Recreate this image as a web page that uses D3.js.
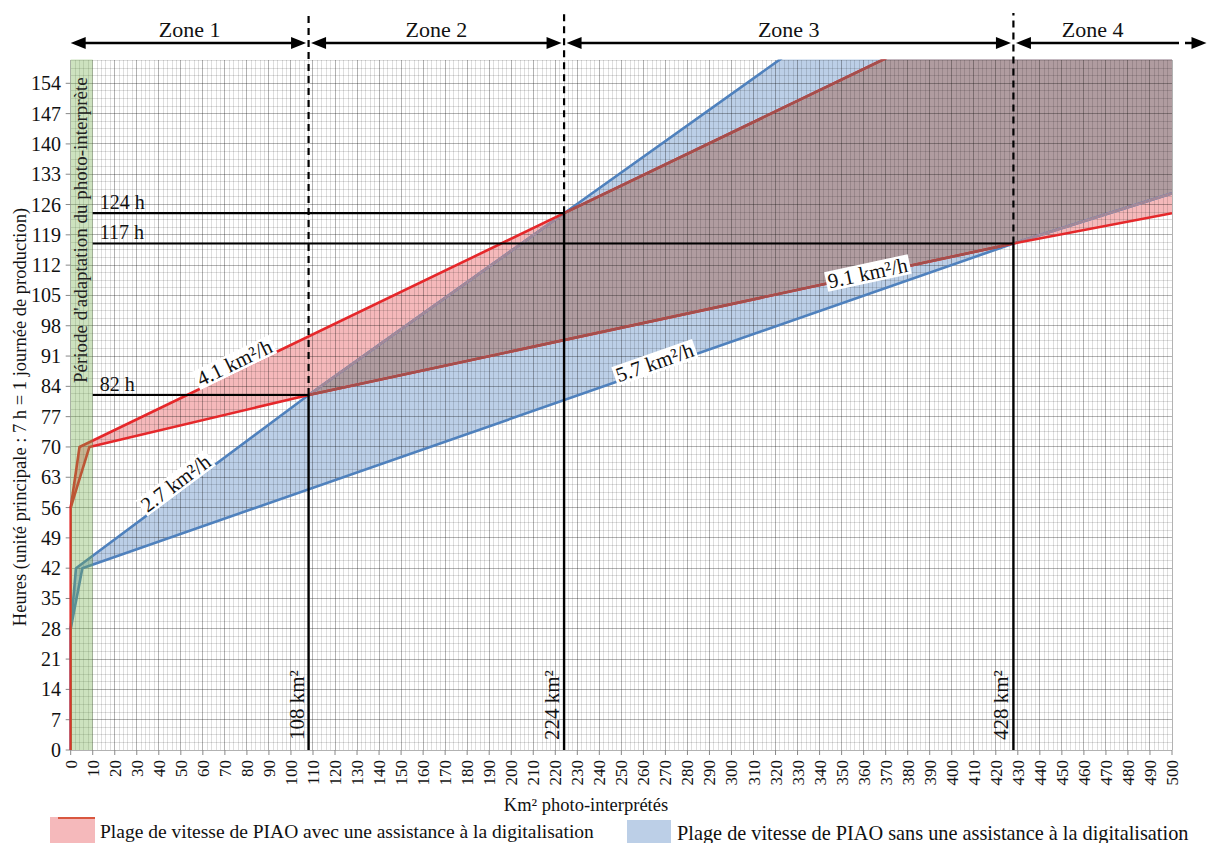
<!DOCTYPE html>
<html>
<head>
<meta charset="utf-8">
<script src="https://cdn.jsdelivr.net/npm/d3@7"></script>
<style>
  html, body { margin: 0; padding: 0; background: #fff; }
  svg { display: block; font-family: "Liberation Serif", "DejaVu Serif", serif; }
</style>
</head>
<body>
<script>
// ---------------- DATA ----------------
const xTickValues = [0,10,20,30,40,50,60,70,80,90,100,110,120,130,140,150,160,170,180,190,200,210,220,230,240,250,260,270,280,290,300,310,320,330,340,350,360,370,380,390,400,410,420,430,440,450,460,470,480,490,500];
const yTickValues = [0,7,14,21,28,35,42,49,56,63,70,77,84,91,98,105,112,119,126,133,140,147,154];
const xDomain = [0, 500];
const yDomain = [0, 159.5];

// speed ranges: [km², hours]
const redUpper  = [[0,0],[0,56],[4,70],[224,124],[500,191.6]];
const redLower  = [[0,56],[8.5,70],[108,82],[428,117],[500,124]];
const blueUpper = [[0,0],[0,28],[2.4,42],[108,82],[224,124],[500,224]];
const blueLower = [[0,28],[5.3,42],[428,117],[500,128.6]];

const zoneNames  = ["Zone 1","Zone 2","Zone 3","Zone 4"];
const zoneBounds = [0, 108, 224, 428, 500];

const thresholdKm    = [108, 224, 428];
const thresholdHours = [82, 124, 117];
const thresholdKmLabels   = ["108 km²", "224 km²", "428 km²"];
const thresholdHourLabels = ["82 h", "124 h", "117 h"];

const adaptationPeriod = [0, 10];
const adaptationLabel = "Période d'adaptation du photo-interprète";

const rateLabels = ["4.1 km²/h", "2.7 km²/h", "5.7 km²/h", "9.1 km²/h"];

const legendLabels = ["Plage de vitesse de PIAO avec une assistance à la digitalisation",
                      "Plage de vitesse de PIAO sans une assistance à la digitalisation"];
const xTitle = "Km² photo-interprétés";
const yTitle = "Heures (unité principale : 7 h = 1 journée de production)";

// ---------------- LAYOUT ----------------
const W = 1208, H = 843;
const x = d3.scaleLinear(xDomain, [70.7, 1172]);
const y = d3.scaleLinear(yDomain, [750, 59.5]);

const C = {
  pink: "#f5b9bb", blue: "#bccfe7", overlap: "#b09ca0",
  red: "#e5282b", brown: "#a34f4c", steel: "#4f81bd", mauve: "#a38898",
  green: "#70ad47"
};

const svg = d3.select("body").append("svg").attr("width", W).attr("height", H);
const defs = svg.append("defs");

const px = pts => pts.map(p => [x(p[0]), y(p[1])]);
const line = d3.line();
const polygon = (up, low) => line(px(up.concat(low.slice().reverse()))) + "Z";
const redPoly = polygon(redUpper, redLower);
const bluePoly = polygon(blueUpper, blueLower);

defs.append("clipPath").attr("id", "plotClip").append("rect")
  .attr("x", x(0) - 2).attr("y", y(yDomain[1]))
  .attr("width", x(500) - x(0) + 2).attr("height", y(0) - y(yDomain[1]) + 2);
defs.append("clipPath").attr("id", "blueClip").append("path").attr("d", bluePoly);
defs.append("clipPath").attr("id", "redClip").append("path").attr("d", redPoly);

const plot = svg.append("g").attr("clip-path", "url(#plotClip)");

// fills
plot.append("path").attr("d", redPoly).attr("fill", C.pink);
plot.append("path").attr("d", bluePoly).attr("fill", C.blue);
plot.append("path").attr("d", redPoly).attr("fill", C.overlap).attr("clip-path", "url(#blueClip)");

// grid (drawn over fills, translucent)
const grid = svg.append("g");
const xMinor = d3.range(0, 500.01, 2);
const yMinor = d3.range(0, yDomain[1] + 0.01, 1.75);
grid.selectAll(".vx").data(xMinor).join("line")
  .attr("x1", d => x(d)).attr("x2", d => x(d))
  .attr("y1", y(0)).attr("y2", y(yDomain[1]))
  .attr("stroke", "#000").attr("stroke-opacity", d => d % 10 === 0 ? 0.3 : 0.13).attr("stroke-width", 1)
  .attr("shape-rendering", "crispEdges");
grid.selectAll(".hy").data(yMinor).join("line")
  .attr("x1", x(0)).attr("x2", x(500))
  .attr("y1", d => y(d)).attr("y2", d => y(d))
  .attr("stroke", "#000").attr("stroke-opacity", d => Math.abs(d / 7 - Math.round(d / 7)) < 1e-6 ? 0.3 : 0.13).attr("stroke-width", 1)
  .attr("shape-rendering", "crispEdges");

// ticks
grid.selectAll(".xt").data(xTickValues).join("line")
  .attr("x1", d => x(d)).attr("x2", d => x(d)).attr("y1", y(0)).attr("y2", y(0) + 5)
  .attr("stroke", "#888");
grid.selectAll(".yt").data(yTickValues).join("line")
  .attr("x1", x(0) - 5).attr("x2", x(0)).attr("y1", d => y(d)).attr("y2", d => y(d))
  .attr("stroke", "#888");

// series lines
const lines = svg.append("g").attr("clip-path", "url(#plotClip)").attr("fill", "none")
  .attr("stroke-linejoin", "round");
function drawSeries(pts, col, col2, clip) {
  lines.append("path").attr("d", line(px(pts))).attr("stroke", col).attr("stroke-width", 2.6);
  lines.append("path").attr("d", line(px(pts))).attr("stroke", col2).attr("stroke-width", 2.6)
    .attr("clip-path", `url(#${clip})`);
}
drawSeries(blueUpper, C.steel, C.mauve, "redClip");
drawSeries(blueLower, C.steel, C.mauve, "redClip");
drawSeries(redLower, C.red, C.brown, "blueClip");
drawSeries(redUpper, C.red, C.brown, "blueClip");

// adaptation band
svg.append("rect")
  .attr("x", x(adaptationPeriod[0])).attr("y", y(yDomain[1]))
  .attr("width", x(adaptationPeriod[1]) - x(adaptationPeriod[0]))
  .attr("height", y(0) - y(yDomain[1]))
  .attr("fill", C.green).attr("fill-opacity", 0.35);
svg.append("text")
  .attr("transform", `translate(${x(adaptationPeriod[1]) - 6},383) rotate(-90)`)
  .attr("font-size", 19).attr("fill", "#222").text(adaptationLabel);

// threshold lines
const ann = svg.append("g");
thresholdKm.forEach((km, i) => {
  const h = thresholdHours[i];
  ann.append("line").attr("x1", x(10)).attr("x2", x(km)).attr("y1", y(h)).attr("y2", y(h))
    .attr("stroke", "#000").attr("stroke-width", 2.2);
  ann.append("line").attr("x1", x(km)).attr("x2", x(km)).attr("y1", y(0)).attr("y2", y(h))
    .attr("stroke", "#000").attr("stroke-width", 2.4);
  ann.append("line").attr("x1", x(km)).attr("x2", x(km)).attr("y1", y(h)).attr("y2", 13)
    .attr("stroke", "#000").attr("stroke-width", 2.2).attr("stroke-dasharray", "7,5");
  ann.append("text").attr("x", x(10) + 7).attr("y", y(h) - 4)
    .attr("font-size", 20).attr("fill", "#111").text(thresholdHourLabels[i]);
  ann.append("text").attr("transform", `translate(${x(km) - 5},${y(0) - 10}) rotate(-90)`)
    .attr("font-size", 21).attr("fill", "#111").text(thresholdKmLabels[i]);
});

// rate labels along lines
const rateSpecs = [
  {seg: [redUpper[2], redUpper[3]], at: 76, off: 9},
  {seg: [blueUpper[2], blueUpper[3]], at: 50, off: 9},
  {seg: [blueLower[1], blueLower[2]], at: 266, off: 6},
  {seg: [redLower[2], redLower[3]], at: 362, off: 2}
];
rateSpecs.forEach((s, i) => {
  const [p0, p1] = s.seg;
  const t = (s.at - p0[0]) / (p1[0] - p0[0]);
  const hv = p0[1] + t * (p1[1] - p0[1]);
  const bx = x(s.at), by = y(hv);
  const ang = Math.atan2(y(p1[1]) - y(p0[1]), x(p1[0]) - x(p0[0])) * 180 / Math.PI;
  const g = ann.append("g").attr("transform", `translate(${bx},${by}) rotate(${ang}) translate(0,${-s.off})`);
  const tx = g.append("text").attr("text-anchor", "middle").attr("dy", "0.35em")
    .attr("font-size", 21).attr("fill", "#111").text(rateLabels[i]);
  const bb = tx.node().getBBox();
  g.insert("rect", "text").attr("x", bb.x - 2).attr("y", bb.y + 2).attr("width", bb.width + 4)
    .attr("height", bb.height - 4).attr("fill", "#fff");
});

// axis labels
svg.append("g").selectAll("text").data(yTickValues).join("text")
  .attr("x", 61).attr("y", d => y(d)).attr("dy", "0.35em").attr("text-anchor", "end")
  .attr("font-size", 20).attr("fill", "#111").text(d => d);
svg.append("g").selectAll("text").data(xTickValues).join("text")
  .attr("transform", d => `translate(${x(d) + 6},760) rotate(-90)`)
  .attr("text-anchor", "end").attr("font-size", 17).attr("fill", "#111").text(d => d);
svg.append("text").attr("x", 586).attr("y", 811).attr("text-anchor", "middle")
  .attr("font-size", 18.5).attr("fill", "#111").text(xTitle);
svg.append("text").attr("transform", "translate(26,417) rotate(-90)").attr("text-anchor", "middle")
  .attr("font-size", 18.5).attr("fill", "#111").text(yTitle);

// zones
const zg = svg.append("g");
function arrowHead(xTip, yy, dir) {
  zg.append("path").attr("d", `M${xTip},${yy} L${xTip + dir * 15},${yy - 6} L${xTip + dir * 15},${yy + 6} Z`)
    .attr("fill", "#000");
}
const zy = 43;
zoneNames.forEach((z, i) => {
  const a = x(zoneBounds[i]) + (i === 0 ? 0 : 2.5);
  const last = i === zoneNames.length - 1;
  const b = last ? x(zoneBounds[i + 1]) : x(zoneBounds[i + 1]) - 2.5;
  zg.append("line").attr("x1", a + 5).attr("x2", last ? b : b - 5).attr("y1", zy).attr("y2", zy)
    .attr("stroke", "#000").attr("stroke-width", 2.4);
  arrowHead(a, zy, 1);
  if (!last) arrowHead(b, zy, -1);
  else {
    zg.append("line").attr("x1", b).attr("x2", W - 8).attr("y1", zy).attr("y2", zy)
      .attr("stroke", "#000").attr("stroke-width", 2.4).attr("stroke-dasharray", "7,6");
    arrowHead(W - 1.5, zy, -1);
  }
  zg.append("text").attr("x", (x(zoneBounds[i]) + x(zoneBounds[i + 1])) / 2).attr("y", 37)
    .attr("text-anchor", "middle").attr("font-size", 22).attr("fill", "#111").text(z);
});

// legend
svg.append("rect").attr("x", 50).attr("y", 817).attr("width", 45).attr("height", 30).attr("fill", C.pink);
svg.append("line").attr("x1", 58).attr("x2", 95).attr("y1", 818).attr("y2", 818)
  .attr("stroke", "#d9573f").attr("stroke-width", 2);
svg.append("text").attr("x", 100).attr("y", 838).attr("font-size", 19.5).attr("fill", "#111").text(legendLabels[0]);
svg.append("rect").attr("x", 627).attr("y", 820).attr("width", 44).attr("height", 30).attr("fill", C.blue);
svg.append("text").attr("x", 677).attr("y", 840).attr("font-size", 20.3).attr("fill", "#111").text(legendLabels[1]);
</script>
</body>
</html>
